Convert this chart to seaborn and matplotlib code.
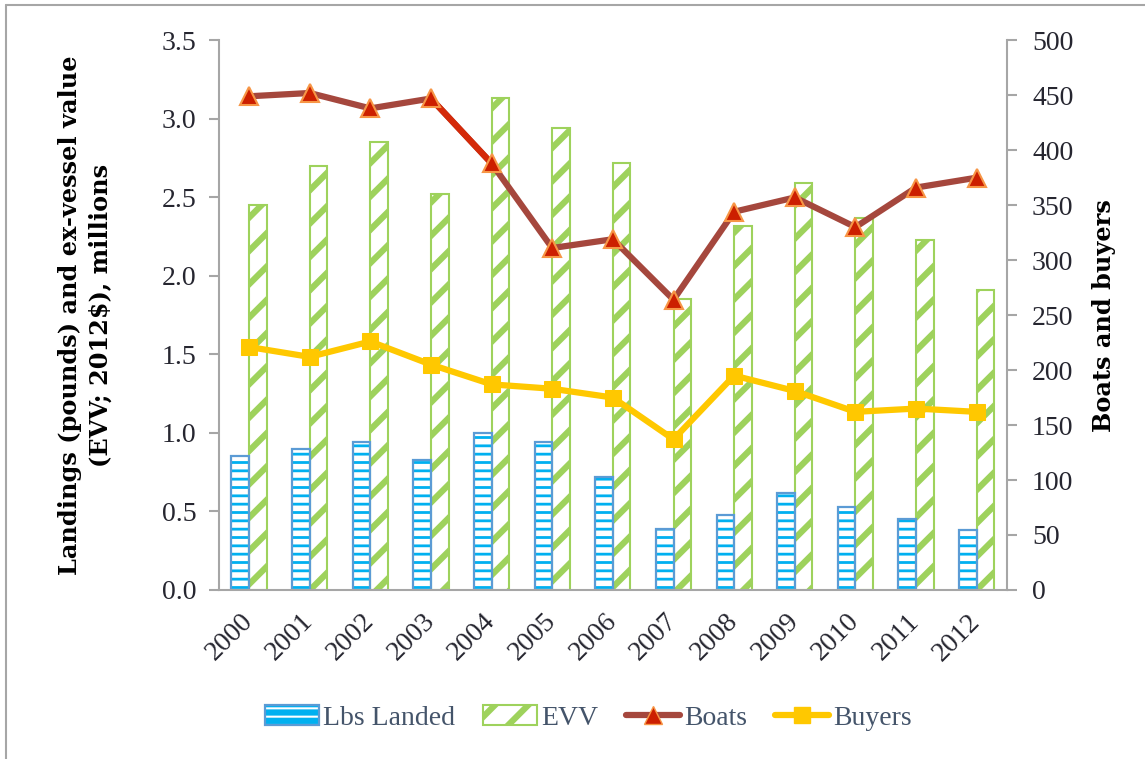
import numpy as np
import pandas as pd
import matplotlib
matplotlib.use("Agg")
import matplotlib.pyplot as plt
from matplotlib.patches import Rectangle
from matplotlib.lines import Line2D
import seaborn as sns

years = ["2000", "2001", "2002", "2003", "2004", "2005", "2006",
         "2007", "2008", "2009", "2010", "2011", "2012"]
lbs_landed = [0.85, 0.90, 0.94, 0.83, 1.00, 0.94, 0.72, 0.39, 0.48, 0.62, 0.53, 0.45, 0.38]
evv = [2.45, 2.70, 2.85, 2.52, 3.13, 2.94, 2.72, 1.85, 2.32, 2.59, 2.37, 2.23, 1.91]
boats = [449, 452, 438, 447, 388, 311, 319, 264, 344, 357, 330, 366, 375]
buyers = [221, 212, 226, 205, 187, 183, 175, 137, 195, 181, 162, 165, 162]

BLUE_EDGE = "#5B9BD5"
CYAN = "#00B0F0"
GREEN = "#9ED25C"
BROWN = "#A5473D"
RED = "#D42A0A"
GOLD = "#FFC800"
GRAY = "#A6A6A6"
TXT = "#262630"


def hatch_lw(patch, lw):
    if hasattr(patch, "set_hatch_linewidth"):
        patch.set_hatch_linewidth(lw)


def main():
    sns.set_style("white")
    plt.rcParams["font.family"] = ["Liberation Serif", "DejaVu Serif"]
    plt.rcParams["hatch.linewidth"] = 4.5

    df = pd.DataFrame({
        "Year": years * 2,
        "Value": lbs_landed + evv,
        "Series": ["Lbs Landed"] * len(years) + ["EVV"] * len(years),
    })

    fig = plt.figure(figsize=(11.45, 7.59), dpi=100)
    ax = fig.add_axes([0.191, 0.2227, 0.6885, 0.7243])

    sns.barplot(data=df, x="Year", y="Value", hue="Series",
                hue_order=["Lbs Landed", "EVV"],
                palette=["white", "white"], width=0.58, gap=0,
                legend=False, ax=ax)

    # Lbs Landed: cyan horizontal hatch, blue outline
    for bar in ax.containers[0]:
        bar.set_facecolor("white")
        bar.set_edgecolor(CYAN)
        bar.set_hatch("--")
        bar.set_linewidth(0)
        hatch_lw(bar, 2.0)
        ax.add_patch(Rectangle(bar.get_xy(), bar.get_width(), bar.get_height(),
                               fill=False, edgecolor=BLUE_EDGE, lw=1.6,
                               zorder=bar.get_zorder() + 0.1))
    # EVV: green diagonal hatch
    for bar in ax.containers[1]:
        bar.set_facecolor("white")
        bar.set_edgecolor(GREEN)
        bar.set_hatch("/")
        bar.set_linewidth(1.5)

    ax.set_xlim(-0.5, len(years) - 0.5)
    ax.set_ylim(0, 3.5)
    ax.set_yticks(np.arange(0, 3.51, 0.5))
    ax.set_yticklabels([f"{v:.1f}" for v in np.arange(0, 3.51, 0.5)])
    ax.set_xticks(range(len(years)))
    ax.set_xticklabels(years, rotation=45, ha="right", va="center", rotation_mode="anchor")
    ax.set_xticks(np.arange(-0.5, len(years), 1), minor=True)
    ax.tick_params(axis="x", which="major", length=0, pad=20, labelsize=20, labelcolor=TXT)
    ax.tick_params(axis="x", which="minor", length=8, width=1.5, color=GRAY, direction="out")
    ax.tick_params(axis="y", length=7, width=1.5, color=GRAY, direction="out",
                   labelsize=20, labelcolor=TXT, pad=9, left=True)
    ax.set_xlabel("")
    ax.set_ylabel("Landings (pounds) and ex-vessel value\n(EVV; 2012$), millions",
                  fontsize=17.3, fontweight="bold", color="black", linespacing=1.35,
                  family=["DejaVu Serif"])
    ax.yaxis.set_label_coords(-0.135, 0.5)
    for side in ["top", "right"]:
        ax.spines[side].set_visible(False)
    for side in ["left", "bottom"]:
        ax.spines[side].set_color(GRAY)
        ax.spines[side].set_linewidth(1.5)

    ax2 = ax.twinx()
    pos = np.arange(len(years))
    sns.lineplot(x=pos, y=boats, ax=ax2, color=BROWN, lw=4.5, zorder=3)
    sns.lineplot(x=pos[3:5], y=boats[3:5], ax=ax2, color=RED, lw=4.5, zorder=3.1)
    sns.lineplot(x=pos, y=boats, ax=ax2, linestyle="none", marker="^", markersize=13,
                 markerfacecolor="#CC1F00", markeredgecolor="#F79646", markeredgewidth=1.5, zorder=4)
    sns.lineplot(x=pos, y=buyers, ax=ax2, color=GOLD, lw=4.5, marker="s", markersize=12,
                 markerfacecolor=GOLD, markeredgecolor=GOLD, zorder=4)
    ax2.set_ylim(0, 500)
    ax2.set_xlim(-0.5, len(years) - 0.5)
    ax2.set_yticks(range(0, 501, 50))
    ax2.tick_params(axis="y", length=7, width=1.5, color=GRAY, direction="out",
                    labelsize=20, labelcolor=TXT, pad=11, right=True)
    ax2.set_ylabel("Boats and buyers", fontsize=17.3, fontweight="bold", color="black",
                   family=["DejaVu Serif"])
    ax2.yaxis.set_label_coords(1.108, 0.5)
    for side in ["top", "left", "bottom"]:
        ax2.spines[side].set_visible(False)
    ax2.spines["right"].set_color(GRAY)
    ax2.spines["right"].set_linewidth(1.5)

    lbs_h = Rectangle((0, 0), 1, 1, facecolor="white", edgecolor=CYAN, hatch="--", lw=0)
    hatch_lw(lbs_h, 2.0)
    lbs_o = Rectangle((0, 0), 1, 1, fill=False, edgecolor=BLUE_EDGE, lw=1.6)
    evv_h = Rectangle((0, 0), 1, 1, facecolor="white", edgecolor=GREEN, hatch="/", lw=1.5)
    handles = [
        (lbs_h, lbs_o),
        evv_h,
        Line2D([], [], color=BROWN, lw=4.5, marker="^", markersize=13,
               markerfacecolor="#CC1F00", markeredgecolor="#F79646"),
        Line2D([], [], color=GOLD, lw=4.5, marker="s", markersize=12),
    ]
    leg = fig.legend(handles, ["Lbs Landed", "EVV", "Boats", "Buyers"],
                     loc="center", bbox_to_anchor=(0.514, 0.054), ncol=4, frameon=False,
                     fontsize=20, handlelength=1.95, handleheight=0.7, columnspacing=1.0,
                     handletextpad=0.15)
    for t in leg.get_texts():
        t.set_color("#44546A")

    # outer frame (top and left edges visible)
    fig.add_artist(Line2D([0.005, 0.005], [0, 0.993], transform=fig.transFigure, color=GRAY, lw=1.5))
    fig.add_artist(Line2D([0.005, 1], [0.993, 0.993], transform=fig.transFigure, color=GRAY, lw=1.5))

    fig.savefig("out.png", dpi=100, facecolor="white")


if __name__ == "__main__":
    main()
